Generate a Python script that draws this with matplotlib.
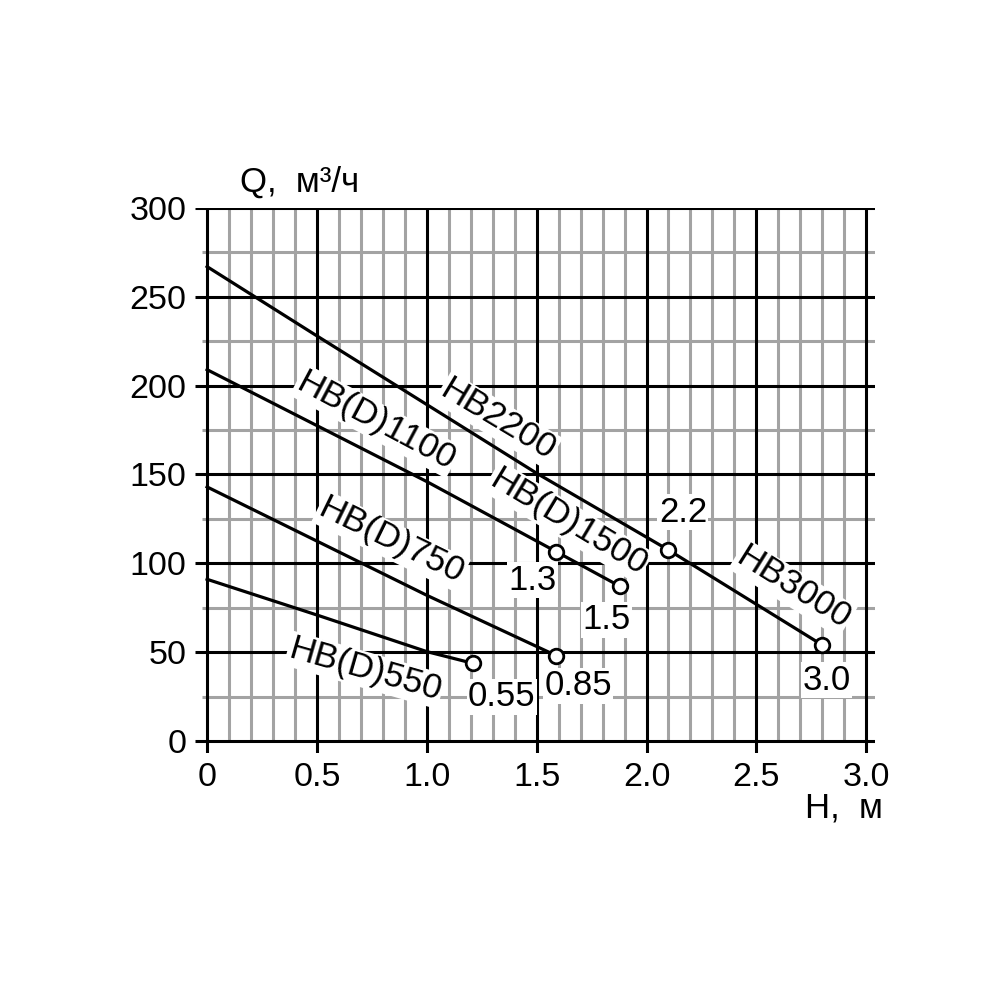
import matplotlib
matplotlib.use("Agg")
import matplotlib.pyplot as plt

plt.rcParams['font.family'] = ['Liberation Sans', 'DejaVu Sans']

# --- data ---------------------------------------------------------------
# HB2200 / HB3000 (same curve)
h_2200 = [0.0, 0.5, 1.5, 2.10, 2.80]
q_2200 = [267, 228, 150.7, 107.5, 54.0]
# HB(D)1100 / HB(D)1500
h_1100 = [0.0, 1.0, 1.59, 1.88]
q_1100 = [209, 146, 106.5, 87.0]
# HB(D)750
h_750 = [0.0, 1.0, 1.59]
q_750 = [143, 82, 48]
# HB(D)550
h_550 = [0.0, 0.5, 1.0, 1.21]
q_550 = [91, 70.9, 50.3, 43.7]

# end-point markers (power kW)
marker_h = [2.10, 2.80, 1.59, 1.88, 1.59, 1.21]
marker_q = [107.5, 54.0, 106.5, 87.0, 48.0, 43.7]
marker_lbl = ["2.2", "3.0", "1.3", "1.5", "0.85", "0.55"]
marker_lbl_h = [2.166, 2.821, 1.483, 1.820, 1.688, 1.342]
marker_lbl_q = [128.7, 34.3, 90.6, 68.1, 31.0, 24.8]

# curve names
curve_lbl = ["HB2200", "HB(D)1100", "HB(D)1500", "HB3000", "HB(D)750", "HB(D)550"]
curve_lbl_h = [1.324, 0.769, 1.643, 2.666, 0.837, 0.719]
curve_lbl_q = [180.7, 180.1, 123.3, 86.1, 112.6, 40.0]
curve_lbl_rot = [-31, -28, -31, -32, -26, -16]

x_ticks = [0, 0.5, 1.0, 1.5, 2.0, 2.5, 3.0]
x_tick_labels = ["0", "0.5", "1.0", "1.5", "2.0", "2.5", "3.0"]
y_ticks = [0, 50, 100, 150, 200, 250, 300]
y_tick_labels = ["0", "50", "100", "150", "200", "250", "300"]
x_minor = [round(0.1 * i, 1) for i in range(31) if i % 5 != 0]
y_minor = [25, 75, 125, 175, 225, 275]

# --- figure -------------------------------------------------------------
fig = plt.figure(figsize=(10, 10), dpi=100)
ax = fig.add_axes([0.195, 0.2466, 0.68, 0.5454])
ax.set_xlim(-0.055, 3.04)
ax.set_ylim(-7, 300)
for s in ax.spines.values():
    s.set_visible(False)

grey = "#a3a3a3"
# minor grid
for xv in x_minor:
    ax.plot([xv, xv], [0, 300], color=grey, lw=2.2, zorder=1, solid_capstyle='butt')
for yv in y_minor:
    ax.plot([-0.025, 3.04], [yv, yv], color=grey, lw=2.2, zorder=1, solid_capstyle='butt')
# major grid
for xv in x_ticks:
    ax.plot([xv, xv], [-7, 300], color="black", lw=2.2, zorder=2, solid_capstyle='butt')
for yv in y_ticks:
    ax.plot([-0.055, 3.04], [yv, yv], color="black", lw=2.2, zorder=2, solid_capstyle='butt')

# curves
for h, q in [(h_2200, q_2200), (h_1100, q_1100), (h_750, q_750), (h_550, q_550)]:
    ax.plot(h, q, color="black", lw=2.3, zorder=4)

ax.plot(marker_h, marker_q, linestyle="none", marker="o", markersize=10.5,
        markerfacecolor="white", markeredgecolor="black", markeredgewidth=2, zorder=6)

bbox = dict(facecolor="white", edgecolor="none", pad=1.0)
for t, xh, yq, r in zip(curve_lbl, curve_lbl_h, curve_lbl_q, curve_lbl_rot):
    ax.text(xh, yq, t, rotation=r, rotation_mode="anchor", ha="center", va="center",
            fontsize=25.5, bbox=bbox, zorder=3)
for t, xh, yq in zip(marker_lbl, marker_lbl_h, marker_lbl_q):
    ax.text(xh, yq, t, ha="center", va="center", fontsize=25, bbox=bbox, zorder=3)

ax.set_xticks(x_ticks)
ax.set_xticklabels(x_tick_labels, fontsize=24.5)
ax.set_yticks(y_ticks)
ax.set_yticklabels(y_tick_labels, fontsize=24.5)
ax.tick_params(length=0, pad=6)

fig.text(0.300, 0.818, "Q,  м³/ч", fontsize=25, ha="center", va="center")
fig.text(0.844, 0.192, "H,  м", fontsize=25, ha="center", va="center")

fig.savefig("out.png", dpi=100, facecolor="white")
